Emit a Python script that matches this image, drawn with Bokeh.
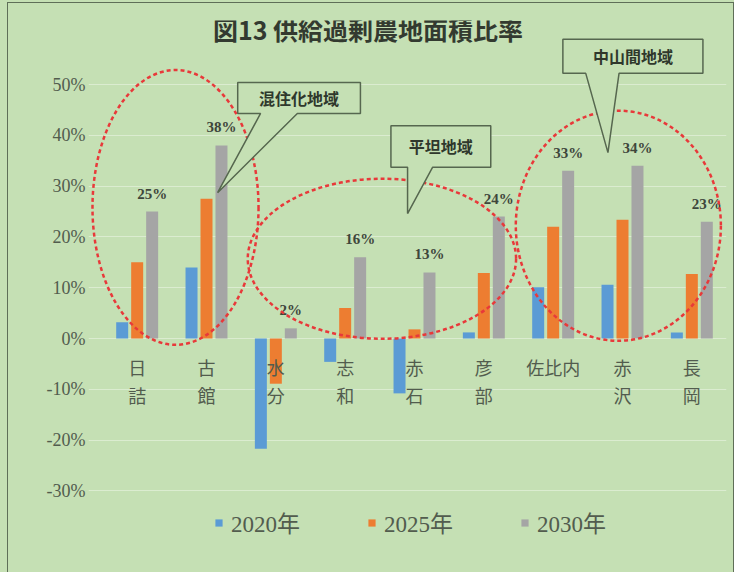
from bokeh.plotting import figure
from bokeh.models import Range1d, FixedTicker, PrintfTickFormatter, Legend, LegendItem
from bokeh.layouts import column
from bokeh.core.properties import value
from bokeh.embed import file_html
from bokeh.resources import INLINE

# 供給過剰農地面積比率（地区別・年次別, %）
districts = ["日詰", "古館", "水分", "志和", "赤石", "彦部", "佐比内", "赤沢", "長岡"]
ratio_2020 = [3.2, 14.0, -21.7, -4.6, -10.8, 1.2, 10.1, 10.6, 1.2]
ratio_2025 = [15.0, 27.5, -8.9, 6.0, 1.8, 12.9, 22.0, 23.4, 12.7]
ratio_2030 = [25, 38, 2, 16, 13, 24, 33, 34, 23]
years = ["2020年", "2025年", "2030年"]
y_ticks = [-30, -20, -10, 0, 10, 20, 30, 40, 50]
title_text = "図13  供給過剰農地面積比率"

# 地域区分の吹き出し
region_names = ["混住化地域", "平坦地域", "中山間地域"]

BG = "#c5e0b4"
TXT = "#525c4e"
COLORS = ["#5b9bd5", "#ed7d31", "#a5a5a5"]
RED = "#e8393a"
SERIF_NAME = "'Liberation Serif', 'Noto Sans CJK JP'"
SERIF = value(SERIF_NAME)
CJK = value("Noto Sans CJK JP")

p = figure(
    width=727, height=570,
    x_range=Range1d(-0.202, len(districts)), y_range=Range1d(-46.26, 62.6),
    output_backend="svg", toolbar_location=None,
    min_border_left=80, min_border_right=9, min_border_top=17, min_border_bottom=0,
    background_fill_color=BG, border_fill_color=BG,
)
p.outline_line_color = None
p.xaxis.visible = False
p.xgrid.visible = False

yax = p.yaxis[0]
yax.ticker = FixedTicker(ticks=y_ticks)
yax.formatter = PrintfTickFormatter(format="%d%%")
yax.axis_line_color = None
yax.major_tick_line_color = None
yax.minor_tick_line_color = None
yax.major_tick_out = 0
yax.major_tick_in = 0
yax.major_label_standoff = 3
yax.major_label_text_font = SERIF_NAME
yax.major_label_text_font_size = "18px"
yax.major_label_text_color = TXT
p.ygrid.ticker = FixedTicker(ticks=y_ticks)
p.ygrid.grid_line_color = "#dbecd0"
p.ygrid.grid_line_width = 1

centers = [i + 0.5 for i in range(len(districts))]
offset = 0.216
bw = 0.173
renderers = []
for k, vals in enumerate([ratio_2020, ratio_2025, ratio_2030]):
    xs = [c + (k - 1) * offset for c in centers]
    r = p.vbar(x=xs, top=vals, bottom=0, width=bw, fill_color=COLORS[k], line_color=None)
    renderers.append(r)

# 2030年の値ラベル
gx = [c + offset for c in centers]
p.text(x=gx, y=ratio_2030, text=[f"{v}%" for v in ratio_2030],
       text_font=SERIF, text_font_size="15px", text_font_style="bold",
       text_color="#3e463b", text_align="center", text_baseline="middle", y_offset=-18)

# 地区名（2文字は縦書き）
top_row = [d[0] if len(d) == 2 else d for d in districts]
bottom_row = [d[1] if len(d) == 2 else "" for d in districts]
p.text(x=centers, y=[-5.7] * len(districts), text=top_row, text_font=CJK,
       text_font_size="18px", text_color=TXT, text_align="center", text_baseline="middle")
p.text(x=centers, y=[-11.2] * len(districts), text=bottom_row, text_font=CJK,
       text_font_size="18px", text_color=TXT, text_align="center", text_baseline="middle")

# 地域グループを囲む破線の楕円
p.ellipse(x=[1.053, 4.03, 7.44], y=[25.8, 15.7, 22.2], width=[2.395, 3.87, 2.958],
          height=[54.1, 31.5, 45.3], fill_alpha=0, line_color=RED, line_width=2.5,
          line_dash="4 3")


def callout(x0, x1, y0, y1, g0, g1, tip):
    xs = [x0, x1, x1, g1, tip[0], g0, x0]
    ys = [y1, y1, y0, y0, tip[1], y0, y0]
    return xs, ys


boxes = [
    (1.95, 3.72, 44.3, 50.4, 2.28, 2.81, (1.66, 28.7)),
    (4.16, 5.60, 33.7, 41.9, 4.40, 4.76, (4.40, 24.6)),
    (6.64, 8.66, 52.2, 58.9, 6.97, 7.45, (7.29, 36.6)),
]
for name, b in zip(region_names, boxes):
    xs, ys = callout(*b)
    p.patch(xs, ys, fill_color=BG, line_color="#56674f", line_width=1.5)
    p.text(x=[(b[0] + b[1]) / 2], y=[(b[2] + b[3]) / 2], text=[name], text_font=CJK,
           text_font_size="16px", text_font_style="bold", text_color="#2f382c",
           text_align="center", text_baseline="middle")

# タイトル
p.text(x=[3.87], y=[60.9], text=[title_text], text_font=CJK, text_font_size="25px",
       text_font_style="bold", text_color="#333a30", text_align="center",
       text_baseline="middle")

legend = Legend(items=[LegendItem(label=y, renderers=[r]) for y, r in zip(years, renderers)],
                orientation="horizontal", location=(126, 34))
legend.background_fill_alpha = 0
legend.border_line_color = None
legend.margin = 0
legend.padding = 9
legend.glyph_width = 9
legend.glyph_height = 9
legend.label_standoff = 8
legend.spacing = 67
legend.label_text_font = SERIF_NAME
legend.label_text_font_size = "23px"
legend.label_text_color = TXT
p.add_layout(legend)

p.styles = {"border-left": "1px solid #5f6f58", "border-top": "1px solid #5f6f58",
            "border-right": "1px solid #5f6f58"}
root = column(p, styles={"background-color": BG, "padding-top": "2px", "padding-left": "7px"})

open("out.html", "w").write(file_html(root, INLINE, title="供給過剰農地面積比率"))
